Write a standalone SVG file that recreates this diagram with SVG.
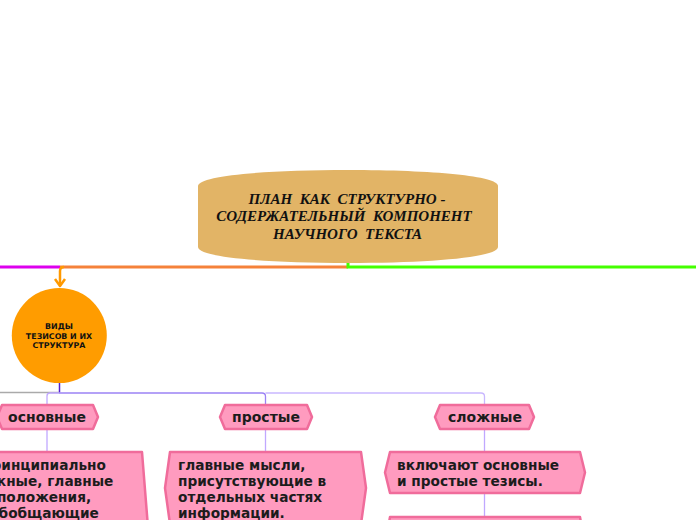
<svg xmlns="http://www.w3.org/2000/svg" width="696" height="520" viewBox="0 0 696 520">
<defs>
<style>
.tag{fill:#FF9BBF;stroke:#F06C9B;stroke-width:2.5;stroke-linejoin:round}
.t{font-family:"DejaVu Sans",Verdana,sans-serif;font-weight:bold;font-size:14px;fill:#1c1c1c}
.d{font-family:"DejaVu Sans",Verdana,sans-serif;font-weight:bold;font-size:13.7px;fill:#1c1c1c}
.c{font-family:"DejaVu Sans",Verdana,sans-serif;font-weight:bold;font-size:7.9px;fill:#111;text-anchor:middle}
.h{font-family:"Liberation Serif","Times New Roman",serif;font-weight:bold;font-style:italic;font-size:15px;fill:#111;text-anchor:middle;white-space:pre}
.ln{fill:none;stroke-width:1.3}
</style>
</defs>
<rect width="696" height="520" fill="#fff"/>
<g id="connectors">
<path d="M0 267H60" stroke="#DD00EE" stroke-width="3" fill="none"/>
<path d="M60 267H348" stroke="#F5823A" stroke-width="3" fill="none"/>
<path d="M348 261V267H696" stroke="#44FF00" stroke-width="3" fill="none"/>
<path d="M64 267Q60 267 60 271V285" stroke="#FF9900" stroke-width="2.5" fill="none"/>
<path d="M55 279L60 286L65 279" stroke="#FF9900" stroke-width="2.5" fill="none" stroke-linejoin="round"/>
<path d="M0 392.5H59" stroke="#AAAAAA" stroke-width="1.5" fill="none"/>
<path d="M59.5 382V392.5" stroke="#5522CC" stroke-width="1.5" fill="none"/>
<path class="ln" d="M59 393H50Q47 393 47 396V405" stroke="#C0A8FF"/>
<path class="ln" d="M59 393H262Q265.5 393 265.5 396.5V405" stroke="#9C82F5"/>
<path class="ln" d="M265.5 393H481Q484.5 393 484.5 396.5V405" stroke="#C9B8FF"/>
<path class="ln" d="M47 429V452" stroke="#C0A8FF"/>
<path class="ln" d="M265.5 429V452" stroke="#C0A8FF"/>
<path class="ln" d="M484.5 429V452M484.5 493V517" stroke="#C0A8FF"/>
</g>
<g id="root">
<path d="M198 186C198 176 262 170 348 170C434 170 498 176 498 186V247C498 257 434 263 348 263C262 263 198 257 198 247Z" fill="#E2B466"/>
<text class="h" x="347" y="203.5" xml:space="preserve">ПЛАН  КАК  СТРУКТУРНО -</text>
<text class="h" x="344" y="221" xml:space="preserve">СОДЕРЖАТЕЛЬНЫЙ  КОМПОНЕНТ</text>
<text class="h" x="347.5" y="238.5" xml:space="preserve">НАУЧНОГО  ТЕКСТА</text>
</g>
<g id="vidy">
<circle cx="59.3" cy="335.5" r="47.5" fill="#FF9C00"/>
<text class="c" x="59" y="329">ВИДЫ</text>
<text class="c" x="59" y="338.5">ТЕЗИСОВ И ИХ</text>
<text class="c" x="59" y="348">СТРУКТУРА</text>
</g>
<g id="osnovnye">
<path class="tag" d="M2 405H93L98 417L93 429H2L-3 417Z"/>
<text class="t" x="47" y="422" text-anchor="middle">основные</text>
</g>
<g id="prostye">
<path class="tag" d="M225 405H307L312 417L307 429H225L220 417Z"/>
<text class="t" x="266" y="422" text-anchor="middle">простые</text>
</g>
<g id="slozhnye">
<path class="tag" d="M440 405H529L534 417L529 429H440L435 417Z"/>
<text class="t" x="485" y="422" text-anchor="middle">сложные</text>
</g>
<g id="osnovnye-desc">
<path class="tag" d="M-48 452H142L149 540L142 600H-48Z"/>
<text class="d" x="44" y="470" text-anchor="middle">принципиально</text>
<text class="d" x="44" y="486" text-anchor="middle">важные, главные</text>
<text class="d" x="44" y="502" text-anchor="middle">положения,</text>
<text class="d" x="44" y="518" text-anchor="middle">обобщающие</text>
</g>
<g id="prostye-desc">
<path class="tag" d="M170 452H361L366 488L361 524H170L165 488Z"/>
<text class="d" x="178" y="470">главные мысли,</text>
<text class="d" x="178" y="486">присутствующие в</text>
<text class="d" x="178" y="502">отдельных частях</text>
<text class="d" x="178" y="518">информации.</text>
</g>
<g id="slozhnye-desc">
<path class="tag" d="M390 452H580L585 472.5L580 493H390L385 472.5Z"/>
<text class="d" x="397" y="469.5">включают основные</text>
<text class="d" x="397" y="486">и простые тезисы.</text>
</g>
<g id="slozhnye-next">
<path class="tag" d="M390 517H580L584 540H386Z"/>
</g>
</svg>
